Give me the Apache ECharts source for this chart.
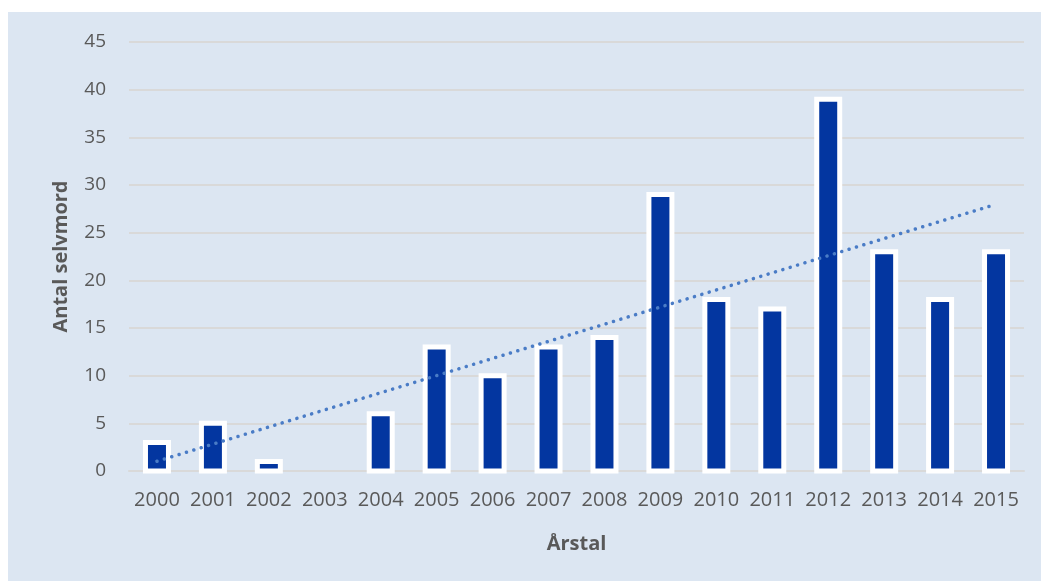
<!DOCTYPE html>
<html>
<head>
<meta charset="utf-8">
<script src="https://cdn.jsdelivr.net/npm/echarts@6/dist/echarts.min.js"></script>
<style>
  html, body { margin: 0; padding: 0; background: #ffffff; }
  #chart { position: absolute; left: 8px; top: 12px; width: 1033px; height: 569px; background: #dce6f2; }
</style>
</head>
<body>
<div id="chart"></div>
<script>
// Yearly counts
const years = ['2000','2001','2002','2003','2004','2005','2006','2007','2008','2009','2010','2011','2012','2013','2014','2015'];
const counts = [3, 5, 1, 0, 6, 13, 10, 13, 14, 29, 18, 17, 39, 23, 18, 23];
const yTicks = { min: 0, max: 45, interval: 5 };

// Least-squares linear trend over the counts
function linearTrend(values) {
  const n = values.length;
  let sx = 0, sy = 0, sxy = 0, sxx = 0;
  values.forEach((v, i) => { sx += i; sy += v; sxy += i * v; sxx += i * i; });
  const slope = (n * sxy - sx * sy) / (n * sxx - sx * sx);
  const intercept = (sy - slope * sx) / n;
  return values.map((_, i) => +(intercept + slope * i).toFixed(3));
}
const trend = linearTrend(counts);

const textColor = '#595959';
const font = '"Open Sans", "Liberation Sans", sans-serif';

// Bars with a white outline centred on the bar edge
function renderBar(params, api) {
  const idx = api.value(0);
  const v = api.value(1);
  if (!v) return null;
  const top = api.coord([idx, v]);
  const base = api.coord([idx, 0]);
  const w = 23;
  return {
    type: 'rect',
    shape: { x: top[0] - w / 2, y: top[1], width: w, height: base[1] - top[1] },
    style: { fill: '#0336a0', stroke: '#ffffff', lineWidth: 5 }
  };
}

const chart = echarts.init(document.getElementById('chart'), null, { renderer: 'canvas' });
chart.setOption({
  backgroundColor: '#dce6f2',
  animation: false,
  grid: { left: 121, right: 17, top: 30, bottom: 110 },
  xAxis: {
    type: 'category',
    data: years,
    boundaryGap: true,
    name: 'Årstal',
    nameLocation: 'middle',
    nameGap: 63,
    nameTextStyle: { color: textColor, fontFamily: font, fontSize: 20, fontWeight: 'bold' },
    axisLine: { show: true, lineStyle: { color: '#d9d9d9', width: 2 } },
    axisTick: { show: false },
    axisLabel: { color: textColor, fontFamily: font, fontSize: 20, margin: 19, interval: 0 }
  },
  yAxis: {
    type: 'value',
    min: yTicks.min,
    max: yTicks.max,
    interval: yTicks.interval,
    name: 'Antal selvmord',
    nameLocation: 'middle',
    nameRotate: 90,
    nameGap: 58,
    nameTextStyle: { color: textColor, fontFamily: font, fontSize: 20, fontWeight: 'bold' },
    axisLine: { show: false },
    axisTick: { show: false },
    axisLabel: { color: textColor, fontFamily: font, fontSize: 19, margin: 23 },
    splitLine: { lineStyle: { color: '#d9d9d9', width: 2 } }
  },
  series: [
    {
      type: 'custom',
      renderItem: renderBar,
      data: counts.map((v, i) => [i, v]),
      encode: { x: 0, y: 1 },
      z: 2
    },
    {
      type: 'line',
      data: trend,
      symbol: 'none',
      silent: true,
      lineStyle: { color: '#4a7cc6', width: 3.5, type: [0.1, 7.6], cap: 'round' },
      z: 3
    }
  ]
});
</script>
</body>
</html>
